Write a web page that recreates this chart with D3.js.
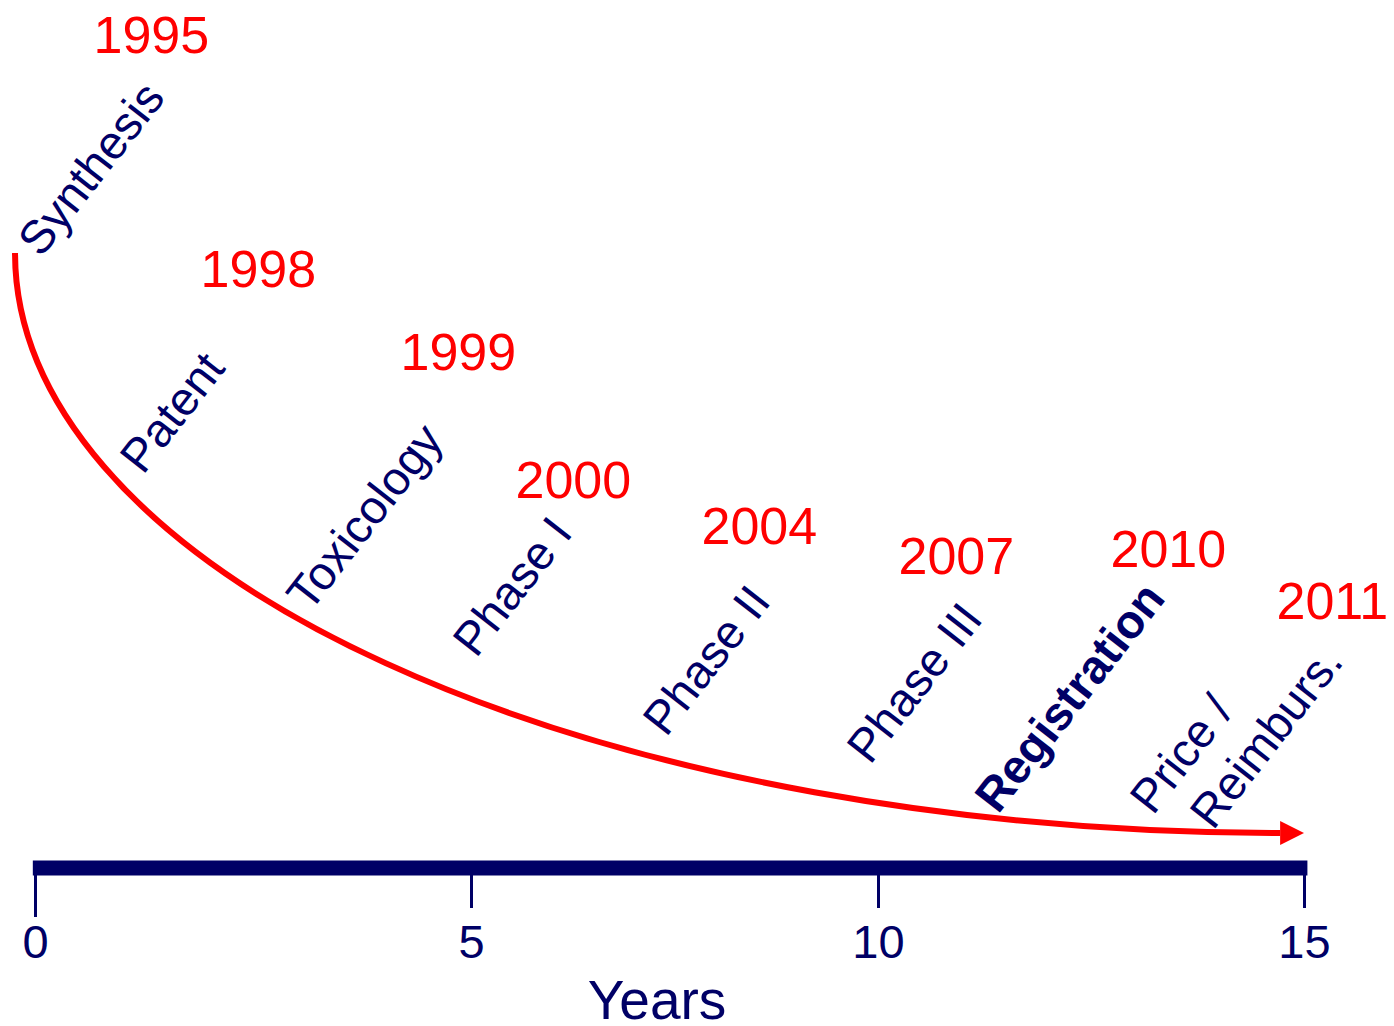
<!DOCTYPE html>
<html>
<head>
<meta charset="utf-8">
<script src="https://cdn.jsdelivr.net/npm/d3@7"></script>
<style>
    body { margin: 0; background: #fff; }
    svg { display: block; font-family: "Liberation Sans", Arial, sans-serif; }
</style>
</head>
<body>
<div class="container"></div>
<script>
// axis ticks (years since start)
let yearTicks = [0, 5, 10, 15];

// development stages, calendar year of each, and where its label sits (years, level)
let stageLines = [["Synthesis"], ["Patent"], ["Toxicology"], ["Phase I"], ["Phase II"],
    ["Phase III"], ["Registration"], ["Price /", "Reimburs."]];
let stageYears = [1995, 1998, 1999, 2000, 2004, 2007, 2010, 2011];
let stageAt = [[0.068, 0.99], [1.238, 0.616], [3.15, 0.379], [5.061, 0.3], [7.396, 0.164],
    [9.902, 0.116], [11.408, 0.031], [13.228, 0.029]];
let secondLineAt = [13.932, 0.003];
let yearAt = [[0.671, 1.345], [1.898, 0.941], [4.192, 0.798], [5.547, 0.578], [7.832, 0.498],
    [10.241, 0.447], [12.729, 0.459], [14.677, 0.369]];

// red arc: starts at full level just before year 0, ends flat at level 0 (arrow to year 15)
let curveStart = [-0.229, 1];
let curveEnd = [14.72, 0];

let navy = "#000066",
    red = "#ff0000";

let width = 1394,
    height = 1026;

let svg = d3.select(".container")
    .append("svg")
    .attr("width", width)
    .attr("height", height);

let x = d3.scaleLinear()
    .domain([0, 5, 10, 15])
    .range([35, 471, 878, 1304]);

let y = d3.scaleLinear()
    .domain([0, 1])
    .range([833, 253]);

// arrow head
svg.append("defs")
    .append("marker")
    .attr("id", "arrow")
    .attr("markerUnits", "userSpaceOnUse")
    .attr("viewBox", "0 -12 24 24")
    .attr("refX", 0)
    .attr("refY", 0)
    .attr("markerWidth", 24)
    .attr("markerHeight", 24)
    .attr("orient", "auto")
    .append("path")
    .attr("d", "M0,-12L24,0L0,12Z")
    .style("fill", red);

// thick time bar
let barY = 868;
svg.append("line")
    .attr("x1", x(-0.025))
    .attr("x2", x(15.04))
    .attr("y1", barY)
    .attr("y2", barY)
    .attr("stroke", navy)
    .attr("stroke-width", 15);

let axis = svg.append("g")
    .attr("transform", "translate(0," + (barY + 7) + ")")
    .call(d3.axisBottom(x).tickValues(yearTicks).tickSize(33).tickSizeOuter(0));

axis.select(".domain").remove();
axis.selectAll(".tick line")
    .attr("stroke", navy)
    .attr("stroke-width", 3)
    .attr("y2", function (d) {
        return d === 0 ? 42 : 33;
    });
axis.selectAll(".tick text")
    .attr("fill", navy)
    .attr("y", 50)
    .style("font-size", "47px")
    .style("font-family", "'Liberation Sans', Arial, sans-serif");

svg.append("text")
    .attr("x", x(7.285))
    .attr("y", 1019)
    .attr("text-anchor", "middle")
    .attr("fill", navy)
    .style("font-size", "55px")
    .text("Years");

// quarter-ellipse decay arc
let x0 = x(curveStart[0]),
    y0 = y(curveStart[1]),
    x1 = x(curveEnd[0]),
    y1 = y(curveEnd[1]);

svg.append("path")
    .attr("d", "M" + x0 + "," + y0 + " A" + (x1 - x0) + "," + (y1 - y0) + " 0 0 0 " + x1 + "," + y1)
    .attr("fill", "none")
    .attr("stroke", red)
    .attr("stroke-width", 6)
    .attr("marker-end", "url(#arrow)");

// stage names, rotated
let labels = svg.append("g");
stageLines.forEach((lines, i) => {
    lines.forEach((txt, j) => {
        let at = j === 0 ? stageAt[i] : secondLineAt;
        labels.append("text")
            .attr("transform", "translate(" + x(at[0]) + "," + y(at[1]) + ") rotate(-52)")
            .attr("fill", navy)
            .style("font-size", "47px")
            .style("font-weight", txt === "Registration" ? "bold" : "normal")
            .text(txt);
    });
});

// calendar years
svg.append("g")
    .selectAll("text")
    .data(stageYears)
    .enter()
    .append("text")
    .attr("x", (d, i) => x(yearAt[i][0]))
    .attr("y", (d, i) => y(yearAt[i][1]))
    .attr("fill", red)
    .style("font-size", "52px")
    .text(d => d);
</script>
</body>
</html>
